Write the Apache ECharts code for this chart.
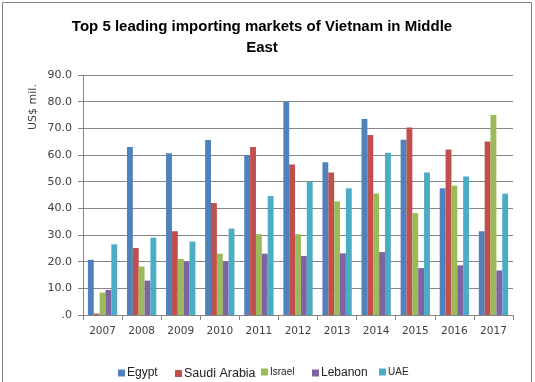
<!DOCTYPE html>
<html><head><meta charset="utf-8">
<script src="https://cdn.jsdelivr.net/npm/echarts@6/dist/echarts.min.js"></script>
<style>html,body{margin:0;padding:0;background:#fff}#c{width:535px;height:382px}</style>
</head><body><div id="c"></div>
<script>
const categories = ['2007','2008','2009','2010','2011','2012','2013','2014','2015','2016','2017'];
const egypt   = [20.7, 63.0, 60.7, 65.6, 60.0, 80.0, 57.3, 73.5, 65.7, 47.5, 31.4];
const saudi   = [0.5, 25.1, 31.4, 42.0, 63.0, 56.4, 53.4, 67.5, 70.3, 62.1, 65.1];
const israel  = [8.4, 18.2, 21.0, 23.0, 30.3, 30.3, 42.6, 45.5, 38.2, 48.5, 75.0];
const lebanon = [9.4, 12.9, 20.0, 20.0, 23.0, 22.1, 23.1, 23.6, 17.6, 18.6, 16.7];
const uae     = [26.5, 29.0, 27.5, 32.4, 44.6, 50.0, 47.5, 60.8, 53.4, 51.9, 45.5];
const seriesNames = ['Egypt','Saudi Arabia','Israel','Lebanon','UAE'];
const seriesData = [egypt, saudi, israel, lebanon, uae];
const colors = ['#4F81BD','#C0504D','#9BBB59','#8064A2','#4BACC6'];
const yAxisTitle = 'US$ mil.';

const legendPos = [
  {left:118, size:12},
  {left:175, size:12.5},
  {left:261, size:10},
  {left:312, size:12},
  {left:379, size:10}
];

const chart = echarts.init(document.getElementById('c'), null, {renderer:'canvas'});
chart.setOption({
  animation:false,
  color: colors,
  title:{
    text:'Top 5 leading importing markets of Vietnam in Middle\nEast',
    left:257, top:11, textAlign:'center',
    textStyle:{fontFamily:'Liberation Sans', fontWeight:'bold', fontSize:15, color:'#000', lineHeight:21}
  },
  graphic:[
    {type:'rect', shape:{x:2.5,y:2.5,width:529,height:390}, style:{fill:'none', stroke:'#7f7f7f', lineWidth:1}},
    {type:'text', x:33, y:107, rotation:Math.PI/2,
     style:{text:yAxisTitle, fontFamily:'DejaVu Sans', fontSize:11, fill:'#404040', align:'center', verticalAlign:'middle'}}
  ],
  legend: seriesNames.map((n,i)=>({
    data:[n], left:legendPos[i].left, top:367, itemWidth:7, itemHeight:7, itemGap:0,
    icon:'rect', padding:0,
    textStyle:{fontFamily:'Liberation Sans', fontSize:legendPos[i].size, color:'#222', padding:[0,0,0,-3]}
  })),
  grid:{left:83, right:22, top:75, bottom:67, containLabel:false},
  xAxis:{
    type:'category', data:categories,
    axisLine:{lineStyle:{color:'#868686'}},
    axisTick:{show:true, length:5, alignWithLabel:false, lineStyle:{color:'#868686'}},
    axisLabel:{fontFamily:'DejaVu Sans', fontSize:10.5, color:'#404040', margin:11}
  },
  yAxis:{
    type:'value', min:0, max:90, interval:10,
    axisLine:{show:true, lineStyle:{color:'#868686'}},
    axisTick:{show:true, length:5, lineStyle:{color:'#868686'}},
    splitLine:{lineStyle:{color:'#868686'}},
    axisLabel:{fontFamily:'DejaVu Sans', fontSize:11, color:'#404040', margin:11,
      formatter:v=> v===0 ? '.0' : v.toFixed(1)}
  },
  series: seriesNames.map((n,i)=>({
    name:n, type:'bar', data:seriesData[i], barGap:'0%', barCategoryGap:'25%'
  }))
});
</script></body></html>
